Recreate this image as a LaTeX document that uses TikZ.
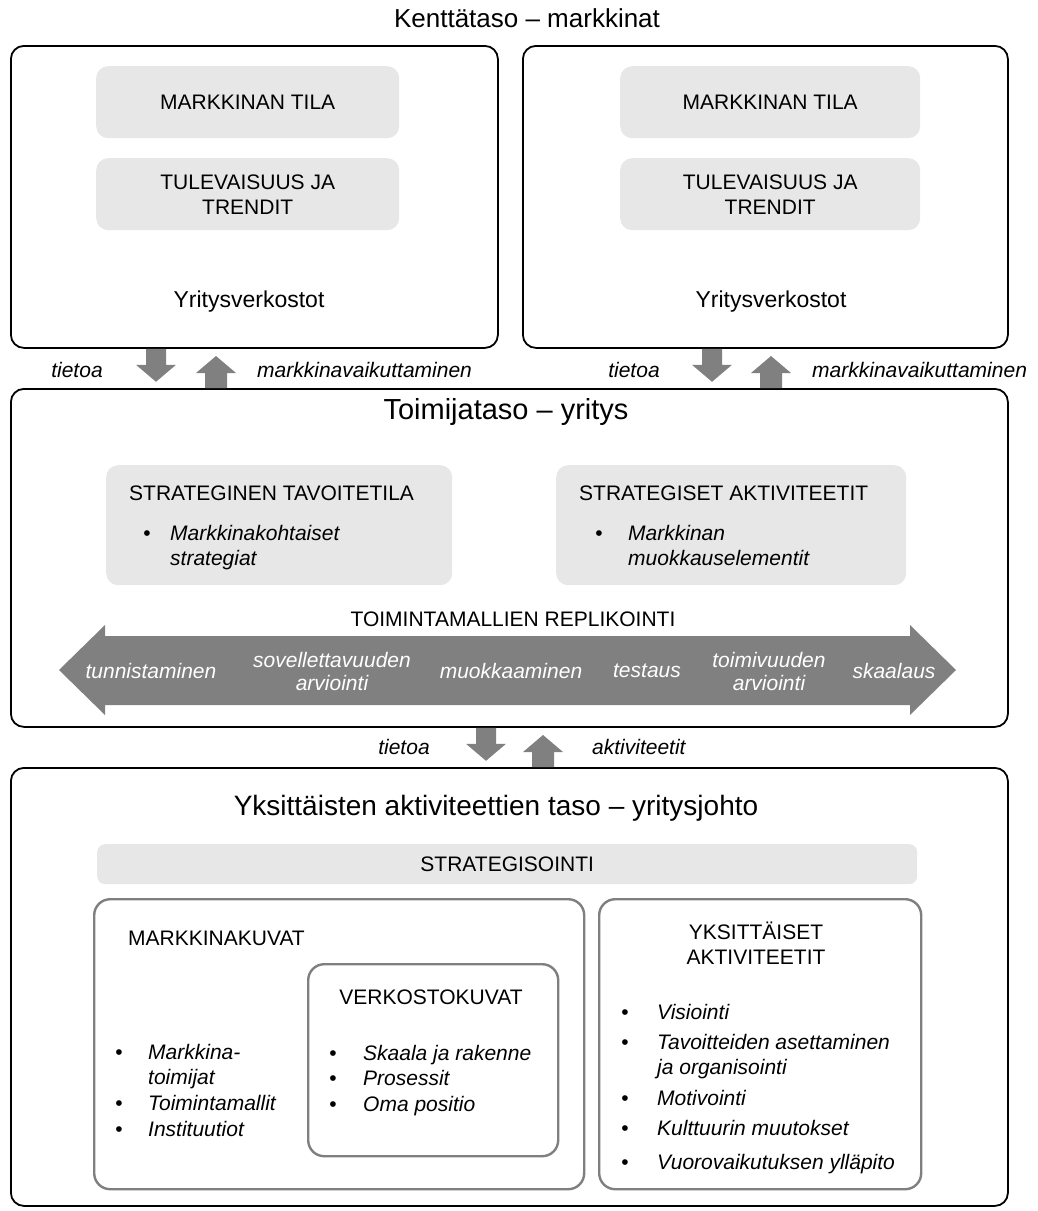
\documentclass[tikz,border=0pt]{standalone}
\usepackage{fontspec}
\setmainfont{Liberation Sans}
\usetikzlibrary{calc}
\definecolor{arrowgray}{HTML}{808080}
\definecolor{panelgray}{HTML}{E7E7E7}
\definecolor{framegray}{HTML}{7F7F7F}

\tikzset{
  outerbox/.style={draw=black, line width=1.8pt, rounded corners=13pt, anchor=north west, inner sep=0pt},
  panel/.style={fill=panelgray, rounded corners=12pt, anchor=north west, inner sep=0pt},
  framebox/.style={draw=framegray, line width=2.4pt, rounded corners=16pt, anchor=north west, inner sep=0pt},
  body/.style={font=\fontsize{21}{25}\selectfont, inner sep=0pt},
  ital/.style={font=\fontsize{21}{25}\selectfont\itshape, inner sep=0pt},
  lineL/.style={body, anchor=base west},
  itL/.style={ital, anchor=base west},
  itC/.style={ital, anchor=base},
  bul/.style={body, anchor=base},
  title/.style={font=\fontsize{26}{30}\selectfont, inner sep=0pt, anchor=base},
  steplabel/.style={font=\fontsize{21}{23}\selectfont\itshape, text=white, inner sep=0pt, align=center},
  pics/dnarrow/.style={code={
    \fill[arrowgray] (-10,0) -- (-10,16) -- (-20,16) -- (0,33) -- (20,16) -- (10,16) -- (10,0) -- cycle;}},
  pics/uparrow/.style={code={
    \fill[arrowgray] (-11,0) -- (-11,-15) -- (-20,-15) -- (0,-32) -- (20,-15) -- (11,-15) -- (11,0) -- cycle;}},
}

\begin{document}
\begin{tikzpicture}[x=1pt,y=-1pt]
\useasboundingbox (0,0) rectangle (1037,1211);

% ---------- field level ----------
\node[title] (tField) at (527,27) {Kenttätaso – markkinat};

\node[outerbox, minimum width=487pt, minimum height=302pt] (fieldL) at (10,45) {};
\node[outerbox, minimum width=485pt, minimum height=302pt] (fieldR) at (522,45) {};

\node[panel, minimum width=303pt, minimum height=72pt] (stateL) at (96,66) {};
\node[panel, minimum width=303pt, minimum height=72pt] (trendL) at (96,158) {};
\node[panel, minimum width=300pt, minimum height=72pt] (stateR) at (620,66) {};
\node[panel, minimum width=300pt, minimum height=72pt] (trendR) at (620,158) {};

\node[body] (stateLt) at (stateL.center) {MARKKINAN TILA};
\node[body, align=center] (trendLt) at (trendL.center) {TULEVAISUUS JA\\TRENDIT};
\node[body] (stateRt) at (stateR.center) {MARKKINAN TILA};
\node[body, align=center] (trendRt) at (trendR.center) {TULEVAISUUS JA\\TRENDIT};

\node[body, font=\fontsize{23}{27}\selectfont, anchor=base] (netL) at (249,307) {Yritysverkostot};
\node[body, font=\fontsize{23}{27}\selectfont, anchor=base] (netR) at (771,307) {Yritysverkostot};

% ---------- actor level ----------
\node[outerbox, minimum width=997pt, minimum height=338pt] (actor) at (10,388) {};

% arrows between field and actor level
\coordinate (dnL) at (156,0);
\coordinate (upL) at (216,0);
\coordinate (dnR) at (712,0);
\coordinate (upR) at (771,0);
\pic at (fieldL.south -| dnL) {dnarrow};
\pic at (actor.north -| upL) {uparrow};
\pic at (fieldR.south -| dnR) {dnarrow};
\pic at (actor.north -| upR) {uparrow};

\node[itC] (infoL) at (77,377) {tietoa};
\node[itL] (inflL) at (257,377) {markkinavaikuttaminen};
\node[itC] (infoR) at (634,377) {tietoa};
\node[itL] (inflR) at (812,377) {markkinavaikuttaminen};

\node[title, font=\fontsize{29}{33}\selectfont] (tActor) at (506,419) {Toimijataso – yritys};

\node[panel, minimum width=346pt, minimum height=120pt] (goal) at (106,465) {};
\node[panel, minimum width=350pt, minimum height=120pt] (acts) at (556,465) {};

\node[lineL] (goalH) at (129,500) {STRATEGINEN TAVOITETILA};
\node[bul] (goalB) at (147,540) {•};
\node[itL] (goal1) at (170,540) {Markkinakohtaiset};
\node[itL] (goal2) at (170,565) {strategiat};

\node[lineL] (actsH) at (579,500) {STRATEGISET AKTIVITEETIT};
\node[bul] (actsB) at (599,540) {•};
\node[itL] (acts1) at (628,540) {Markkinan};
\node[itL] (acts2) at (628,565) {muokkauselementit};

\node[body, anchor=base] (repl) at (513,626) {TOIMINTAMALLIEN REPLIKOINTI};

% replication process: double-headed block arrow
\fill[arrowgray] (59,670) -- (105,625) -- (105,636) -- (910,636) -- (910,625) -- (956,670)
  -- (910,715) -- (910,705) -- (105,705) -- (105,715) -- cycle;

\node[steplabel] (st1) at (151,671) {tunnistaminen};
\node[steplabel] (st2) at (332,671) {sovellettavuuden\\arviointi};
\node[steplabel] (st3) at (511,671) {muokkaaminen};
\node[steplabel] (st4) at (647,671) {testaus};
\node[steplabel] (st5) at (769,671) {toimivuuden\\arviointi};
\node[steplabel] (st6) at (894,671) {skaalaus};

% ---------- individual activity level ----------
\node[outerbox, minimum width=997pt, minimum height=438pt] (leader) at (10,767) {};

\coordinate (dnM) at (486,0);
\coordinate (upM) at (543,0);
\pic at (actor.south -| dnM) {dnarrow};
\pic at (leader.north -| upM) {uparrow};
\node[itC] (infoM) at (404,754) {tietoa};
\node[itL] (actM) at (592,754) {aktiviteetit};

\node[title, font=\fontsize{28}{32}\selectfont] (tLeader) at (496,815) {Yksittäisten aktiviteettien taso – yritysjohto};

\node[panel, rounded corners=8pt, minimum width=820pt, minimum height=40pt] (strat) at (97,844) {};
\node[body] (stratT) at (strat.center) {STRATEGISOINTI};

\node[framebox, minimum width=490pt, minimum height=290pt] (mimg) at (93,898) {};
\node[framebox, minimum width=250pt, minimum height=192pt] (nimg) at (307,963) {};
\node[framebox, minimum width=322pt, minimum height=290pt] (single) at (598,898) {};

\node[lineL] (mimgH) at (128,945) {MARKKINAKUVAT};
\node[bul] (mB1) at (119,1059) {•};
\node[itL] (m1a) at (148,1059) {Markkina-};
\node[itL] (m1b) at (148,1084) {toimijat};
\node[bul] (mB2) at (119,1110) {•};
\node[itL] (m2) at (148,1110) {Toimintamallit};
\node[bul] (mB3) at (119,1136) {•};
\node[itL] (m3) at (148,1136) {Instituutiot};

\node[body, anchor=base] (nimgH) at (431,1004) {VERKOSTOKUVAT};
\node[bul] (nB1) at (333,1060) {•};
\node[itL] (n1) at (363,1060) {Skaala ja rakenne};
\node[bul] (nB2) at (333,1085) {•};
\node[itL] (n2) at (363,1085) {Prosessit};
\node[bul] (nB3) at (333,1111) {•};
\node[itL] (n3) at (363,1111) {Oma positio};

\node[body, anchor=base] (sH1) at (756,939) {YKSITTÄISET};
\node[body, anchor=base] (sH2) at (756,964) {AKTIVITEETIT};
\node[bul] (sB1) at (625,1019) {•};
\node[itL] (s1) at (657,1019) {Visiointi};
\node[bul] (sB2) at (625,1049) {•};
\node[itL] (s2a) at (657,1049) {Tavoitteiden asettaminen};
\node[itL] (s2b) at (657,1074) {ja organisointi};
\node[bul] (sB3) at (625,1105) {•};
\node[itL] (s3) at (657,1105) {Motivointi};
\node[bul] (sB4) at (625,1135) {•};
\node[itL] (s4) at (657,1135) {Kulttuurin muutokset};
\node[bul] (sB5) at (625,1169) {•};
\node[itL] (s5) at (657,1169) {Vuorovaikutuksen ylläpito};
\end{tikzpicture}
\end{document}
